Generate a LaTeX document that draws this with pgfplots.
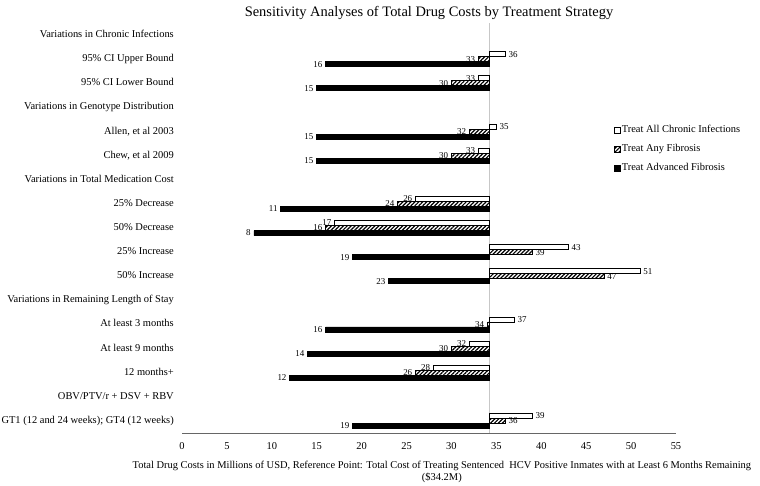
\documentclass[border=0pt]{standalone}
\usepackage{pgfplots}
\pgfplotsset{compat=1.18}
\usepackage{fontspec}
\setmainfont{Liberation Serif}
\usetikzlibrary{patterns.meta}
\begin{document}
\begin{tikzpicture}
\path[use as bounding box] (0,0) rectangle (760bp,486bp);
\begin{axis}[
  at={(182bp,53bp)}, anchor=south west,
  scale only axis, width=494bp, height=410bp,
  xmin=0, xmax=55, ymin=0.5, ymax=17.5, y dir=reverse,
  x coord trafo/.code={\pgfmathparse{#1-34.2}},
  x coord inv trafo/.code={\pgfmathparse{#1+34.2}},
  axis x line*=bottom, axis y line*=left,
  x axis line style={-, draw=black!60, line width=0.8bp},
  y axis line style={draw=none},
  xtick={0,5,10,15,20,25,30,35,40,45,50,55},
  xticklabels={0,5,10,15,20,25,30,35,40,45,50,55},
  ytick={1,2,3,4,5,6,7,8,9,10,11,12,13,14,15,16,17},
  yticklabels={Variations in Chronic Infections,95\% CI Upper Bound,95\% CI Lower Bound,Variations in Genotype Distribution,{Allen, et al 2003},{Chew, et al 2009},Variations in Total Medication Cost,25\% Decrease,50\% Decrease,25\% Increase,50\% Increase,Variations in Remaining Length of Stay,At least 3 months,At least 9 months,12 months+,OBV/PTV/r + DSV + RBV,GT1 (12 and 24 weeks); GT4 (12 weeks)},
  major tick length=0pt,
  tick style={draw=none},
  extra x ticks={34.2}, extra x tick labels={},
  extra x tick style={grid=major, major grid style={draw=black!22, line width=0.8bp}},
  xticklabel style={anchor=north, inner sep=0pt, yshift=-9bp, font=\fontsize{10.5}{12}\selectfont},
  yticklabel style={anchor=east, inner sep=0pt, xshift=-8bp, text height=7bp, text depth=2bp, font=\fontsize{10.5}{12}\selectfont},
  title={Sensitivity Analyses of Total Drug Costs by Treatment Strategy},
  title style={at={(0.5,1)}, anchor=base, yshift=1bp, inner sep=0pt, font=\fontsize{14.5}{16}\selectfont},
  xlabel={Total Drug Costs in Millions of USD, Reference Point: Total Cost of Treating Sentenced\ \ HCV Positive Inmates with at Least 6 Months Remaining\\(\$34.2M)},
  xlabel style={at={(0.526,0)}, anchor=north, yshift=-28bp, align=center, inner sep=0pt, font=\fontsize{10.5}{12}\selectfont},
  xbar, bar width=5bp,
  nodes near coords, point meta=explicit symbolic,
  visualization depends on={rawx \as \myrawx},
  nodes near coords style={font=\fontsize{9}{10}\selectfont, inner sep=3bp, text=black,
    anchor=\ifdim\myrawx pt<34.2pt east\else west\fi},
  legend image code/.code={\draw[#1, line width=0.6bp] (0bp,-3bp) rectangle (6bp,3bp);},
  legend style={draw=none, fill=none, at={(0.8745,0.7537)}, anchor=north west, inner sep=0pt, row sep=7bp, font=\fontsize{10.5}{12}\selectfont, nodes={inner sep=1bp, text height=7.5bp, text depth=2.5bp}},
  legend cell align=left,
]
\addplot[xbar, bar shift=5bp, draw=black, fill=white, line width=0.6bp] coordinates {
 (36,2)[36] (33,3)[33] (35,5)[35] (33,6)[33] (26,8)[26] (17,9)[17] (43,10)[43] (51,11)[51] (37,13)[37] (32,14)[32] (28,15)[28] (39,17)[39]};
\addlegendentry{Treat All Chronic Infections}
\addplot[xbar, bar shift=0bp, draw=black, line width=0.6bp, pattern={Lines[angle=45,distance=2.8bp,line width=1.2bp]}, pattern color=black] coordinates {
 (33,2)[33] (30,3)[30] (32,5)[32] (30,6)[30] (24,8)[24] (16,9)[16] (39,10)[39] (47,11)[47] (34,13)[34] (30,14)[30] (26,15)[26] (36,17)[36]};
\addlegendentry{Treat Any Fibrosis}
\addplot[xbar, bar shift=-5bp, draw=black, fill=black, line width=0.6bp] coordinates {
 (16,2)[16] (15,3)[15] (15,5)[15] (15,6)[15] (11,8)[11] (8,9)[8] (19,10)[19] (23,11)[23] (16,13)[16] (14,14)[14] (12,15)[12] (19,17)[19]};
\addlegendentry{Treat Advanced Fibrosis}
\end{axis}
\end{tikzpicture}
\end{document}
